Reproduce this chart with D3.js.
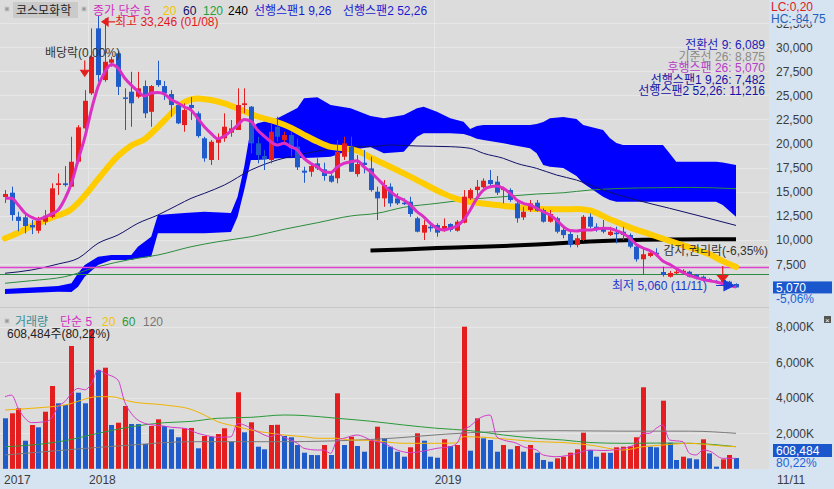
<!DOCTYPE html>
<html><head><meta charset="utf-8">
<script src="https://cdn.jsdelivr.net/npm/d3@7"></script>
<style>
body{margin:0;background:#dcdcdc}
svg{display:block}
text{font-family:"Liberation Sans","Noto Sans CJK KR",sans-serif;font-size:12px}
</style></head>
<body><svg id="c" width="834" height="489"></svg>
<script>
// ---------------- DATA (weekly candles) ----------------
const opens  = [14450,14900,12400,12340,11540,10950,11890,12400,15690,15870,15520,18110,21570,25200,31940,26580,28380,29350,24780,25370,24850,25960,23290,26580,25960,25130,23990,21910,24000,23130,20540,18290,20080,20540,21120,21400,23990,23820,20020,18700,18290,21740,20360,20880,19670,17180,17070,17940,17320,16660,16390,18630,19670,16830,18010,17420,15000,14310,15520,14310,13860,13960,12240,10750,11370,11540,10950,11650,10950,11790,14310,15170,15460,16210,16040,15170,15170,13790,12340,13100,13860,13100,11890,12240,11030,10610,9470,9990,12400,11370,11300,10510,10750,10850,10510,9300,7990,8330,8670,6670,6180,6540,6600,6700,6360,6180,5910,5750,5640,5670,5430];
const highs  = [15170,15520,12920,12580,12060,12400,13100,15870,16900,17660,20700,21910,25540,31940,33246,32980,29000,29520,25720,27440,27440,26540,26060,28580,26480,25540,24330,24170,24820,23330,20700,20360,21050,23130,22430,25720,25720,23890,20700,19320,22100,22780,21220,21220,20520,17590,17940,18460,18010,16900,20360,20700,20700,18800,19320,18630,15520,16210,15870,14830,14310,14480,12400,12060,11890,11720,12230,11720,12060,15170,15350,16210,16390,17250,16630,15520,15350,13960,13440,14140,14140,13270,13100,12400,11550,10850,10510,12580,12750,11720,12060,11370,11370,11370,10680,9640,9130,8950,9130,7220,6780,6900,6950,6800,6460,6300,6000,5850,5950,5750,5500];
const lows   = [13830,11990,10890,10680,10600,10680,11540,12260,14660,15520,15520,17940,21400,25030,26400,26400,27960,25030,21400,21740,24680,22640,21740,25880,24520,22780,22010,21220,22430,20600,18110,17770,18290,20180,20700,21400,23130,18980,17940,17250,17940,20180,19840,18630,17250,15930,16560,17250,16140,15930,15870,18290,17070,16560,16900,15000,12060,13440,13440,13620,13620,12400,10780,9990,10850,10330,10850,10850,10850,11720,14140,14660,15350,15520,14660,13790,13960,11790,12060,12920,12920,11790,11790,10680,10160,9230,9230,9880,11200,10850,10680,10400,9640,9990,9130,7740,6360,8200,8290,6190,6100,6460,6500,6100,5900,5840,5650,5500,5550,5250,5060];
const closes = [14760,12580,11970,11440,11300,11990,12510,15350,15870,15690,18110,21680,24430,29000,27100,28480,28730,25880,24680,24170,25720,23130,25960,26060,25200,23990,22090,23470,23680,20770,18460,20180,20540,21740,21570,23990,24170,20020,18800,18360,21220,20700,20880,19500,17530,16970,17660,17420,16630,16040,19150,20020,17070,17870,17770,15170,14310,15690,13790,13790,13720,12690,10850,11540,11200,10750,11440,11030,11890,14480,15170,15520,16140,15800,14900,15350,14140,12240,12920,13790,13030,11890,12690,10850,10500,9470,10170,12400,11370,11030,10850,10850,10610,10510,9300,7990,8510,8670,8530,6360,6570,6700,6800,6180,6020,5910,5750,5600,5840,5320,5070];
const volumes = [2845,3127,3408,1583,2468,2338,3217,4665,3690,3594,6918,4287,3690,7850,5566,5696,2468,2597,3538,2524,2520,1397,2411,2789,2411,2225,1775,2282,2300,1155,1848,1809,1960,2282,1527,4310,2056,2620,1245,1098,2468,2480,1848,1775,1340,907,777,770,1340,777,4253,1340,1809,1284,963,1622,2372,1718,1245,963,682,1211,2000,1583,682,625,1662,1284,1340,8006,1020,2845,1718,1622,963,1340,1098,1284,963,1340,907,496,400,590,682,907,1098,2035,1059,682,907,900,1211,1245,1260,1775,4592,1245,1211,3838,1470,496,682,590,535,1662,870,120,535,777,608];

// indicator lines: [week, value]
const ma5  = [[0,14310],[1,14310],[2,13620],[3,12790],[4,12350],[5,12120],[6,12370],[7,12700],[8,13100],[9,14240],[10,15870],[11,18290],[12,20600],[13,23500],[14,25890],[15,27400],[16,28200],[17,27830],[18,26790],[19,26060],[20,25440],[21,24920],[22,25230],[23,25290],[24,25130],[25,24560],[26,24200],[27,23780],[28,23470],[29,22610],[30,21740],[31,21050],[32,20500],[33,20770],[34,21290],[35,21900],[36,22500],[37,22300],[38,21400],[39,20770],[40,20180],[41,19840],[42,20020],[43,19670],[44,19320],[45,18460],[46,17940],[47,17590],[48,17070],[49,16990],[50,17560],[51,17940],[52,18110],[53,18210],[54,17590],[55,17050],[56,16390],[57,15690],[58,15000],[59,14480],[60,14140],[61,13620],[62,12920],[63,12400],[64,11720],[65,11200],[66,11030],[67,11200],[68,11440],[69,12060],[70,13100],[71,14310],[72,15170],[73,15520],[74,15590],[75,15350],[76,14830],[77,14140],[78,13790],[79,13620],[80,13280],[81,12920],[82,12580],[83,12060],[84,11390],[85,10970],[86,10920],[87,11030],[88,11030],[89,11130],[90,11200],[91,11180],[92,10970],[93,10660],[94,10200],[95,9520],[96,9160],[97,8900],[98,8490],[99,7810],[100,7470],[101,7030],[102,6620],[103,6310],[104,6080],[105,5890],[106,5750],[107,5630],[108,5470],[109,5300],[110,5110]];
const ma20 = [[0,10165],[2,10750],[4,11450],[7,12300],[10,13200],[12,14600],[14,16300],[17,18700],[19,19800],[21,20450],[23,21700],[25,23100],[27,24300],[29,24680],[31,24510],[33,24170],[36,23350],[38,22800],[41,22200],[43,21650],[45,20900],[47,20200],[49,19650],[51,19500],[53,19250],[55,18550],[57,17900],[60,16900],[63,15850],[66,14800],[68,14250],[71,13850],[74,13620],[77,13380],[80,13200],[84,13170],[86,13200],[88,13050],[91,12150],[94,11300],[97,10600],[100,9900],[103,9220],[106,8500],[108,7800],[110,7200]];
const ma60 = [[0,6540],[4,6880],[8,7500],[11,8090],[14,9650],[17,10510],[20,11720],[23,12580],[26,13620],[28,14310],[30,14830],[33,15690],[37,17250],[40,18080],[44,18800],[48,19320],[51,19670],[55,19670],[58,19840],[62,19740],[67,19670],[70,19500],[72,18980],[75,18460],[77,17940],[80,17420],[83,16730],[86,16210],[90,15170],[95,14140],[100,13280],[105,12400],[110,11500]];
const ma120 = [[0,5500],[4,5770],[9,6180],[14,7220],[19,7990],[23,8430],[28,9290],[32,9810],[37,10330],[42,11100],[47,11780],[52,12480],[56,12760],[60,13380],[65,13790],[70,14210],[75,14480],[80,14760],[84,14890],[88,15170],[93,15350],[98,15410],[103,15450],[110,15310]];
const ma240 = [[55,8900],[60,9000],[65,9160],[70,9260],[75,9370],[80,9520],[84,9680],[88,9830],[92,9940],[96,10010],[100,10040],[105,10060],[110,10060]];
const hLines = [7220, 6430];   // magenta / green reference levels
// Ichimoku cloud (선행스팬1 / 선행스팬2 envelope)
const cloudWeeks = [0,8,10,11,12,14,16,19,20,22,23,27,30,34,35,36,37,38,41,44,45,47,49,52,55,57,60,62,63,65,67,69,70,71,72,75,79,80,81,82,84,86,87,90,91,92,93,99,100,101,107,108,110];
const cloudUpper = [4908,5219,5499,6536,7396,8257,8433,8433,9294,10331,12581,12789,12924,12789,14479,17590,21603,22091,22609,23677,24683,24787,23989,23646,22848,22609,22951,23646,23812,23294,22609,22257,21500,21810,21914,21914,21914,22018,22225,22609,22744,22536,21914,21396,20566,20048,19840,19840,18980,18109,18109,18025,17766];
const cloudLower = [4389,4627,4596,5146,6183,7396,7915,7915,8091,8257,10684,10684,10684,10820,12405,15174,18285,18285,18461,18492,18492,18544,18627,19322,19633,18980,19146,20701,21053,21053,21053,20981,20770,20500,20359,20016,19498,18980,17766,17590,17455,16630,15869,14479,14137,13960,13960,13960,13960,13960,13960,13618,12405];
// volume moving averages
const vma5 = [[0,4060],[1,4150],[2,3400],[3,2850],[4,2600],[6,2650],[7,2850],[8,3500],[9,3780],[10,4250],[11,4530],[12,4450],[13,4800],[14,5566],[15,5380],[17,5000],[18,3780],[19,3127],[21,2563],[22,2480],[24,2400],[25,2340],[27,2282],[29,2000],[30,1904],[32,1775],[34,1800],[35,2563],[36,2468],[38,2090],[40,1809],[41,1960],[42,1775],[44,1436],[45,1155],[47,1059],[48,1059],[49,870],[50,1622],[51,1718],[53,1904],[54,1800],[55,1622],[57,1436],[59,1059],[61,907],[63,1000],[65,1155],[67,1245],[68,1436],[69,2200],[70,2400],[71,2750],[73,3031],[74,1800],[75,1622],[77,1436],[78,1245],[80,1059],[81,777],[83,682],[86,870],[88,1059],[90,1030],[92,1080],[94,1245],[95,1436],[96,2000],[97,2000],[98,2282],[99,2468],[100,1622],[102,1527],[103,870],[104,777],[105,1059],[106,1000],[108,590],[110,590]];
const vma20 = [[0,3313],[4,3408],[9,3594],[14,4062],[16,4062],[19,3780],[24,3594],[28,3350],[30,3031],[32,2656],[35,2372],[37,2186],[40,2000],[42,1904],[45,1809],[47,1718],[50,1718],[52,1622],[55,1600],[60,1436],[65,1436],[68,1460],[69,1809],[72,1775],[77,1622],[80,1530],[84,1480],[88,1340],[93,1059],[96,1245],[99,1340],[103,1436],[108,1284],[110,1245]];
const vma60 = [[0,1245],[4,1340],[9,1583],[14,2000],[19,2372],[24,2597],[28,2670],[32,2845],[37,2900],[42,3031],[45,3000],[50,2845],[55,2680],[60,2468],[65,2282],[70,2150],[75,1904],[80,1718],[84,1622],[88,1480],[93,1436],[98,1450],[103,1436],[110,1245]];
const vma120 = [[0,777],[9,1059],[19,1340],[28,1527],[42,1527],[55,1650],[70,2034],[83,2147],[93,2120],[103,2120],[110,2000]];
// axis ticks / labels
const priceTicks = [32500,30000,27500,25000,22500,20000,17500,15000,12500,10000,7500];
const volTicks = [8000,6000,4000,2000];
const yearLabels = [["2017",-0.3],["2018",12.5],["2019",64.5]];
const lastDate = "11/11";

// ---------------- LAYOUT ----------------
const W=834,H=489, PR=769;
const BG="#dcdcdc", AXBG="#d6e3f1";
const RED="#e41e1e", BLUE="#1f5cc9";
const svg=d3.select("#c");
const x=d3.scaleLinear().domain([0,110]).range([5,736]);
const yP=d3.scaleLinear().domain([7500,30000]).range([264,47.1]);
const yV=d3.scaleLinear().domain([0,8000]).range([468.8,326.8]);

svg.append("rect").attr("width",W).attr("height",H).attr("fill",BG);
svg.append("rect").attr("x",PR).attr("y",0).attr("width",W-PR).attr("height",H).attr("fill",AXBG);
svg.append("rect").attr("x",0).attr("y",469).attr("width",W).attr("height",H-469).attr("fill",AXBG);

const defs=svg.append("defs");
defs.append("clipPath").attr("id","cp").append("rect").attr("x",0).attr("y",0).attr("width",PR).attr("height",307);
defs.append("clipPath").attr("id","cv").append("rect").attr("x",0).attr("y",309).attr("width",PR).attr("height",160);

// grid
const grid=svg.append("g").attr("stroke","#e7e7e7").attr("stroke-width",1);
priceTicks.forEach(t=>{const yy=Math.round(yP(t))+0.5;grid.append("line").attr("x1",0).attr("x2",PR).attr("y1",yy).attr("y2",yy);});
volTicks.forEach(t=>{const yy=Math.round(yV(t))+0.5;grid.append("line").attr("x1",0).attr("x2",PR).attr("y1",yy).attr("y2",yy);});
yearLabels.slice(1).forEach(d=>{const xx=Math.round(x(d[1]))+0.5;grid.append("line").attr("x1",xx).attr("x2",xx).attr("y1",0).attr("y2",469);});
svg.append("line").attr("x1",0).attr("x2",PR).attr("y1",307.5).attr("y2",307.5).attr("stroke","#c6c6c6");

// ---------------- PRICE PANEL ----------------
const gp=svg.append("g").attr("clip-path","url(#cp)");
const area=d3.area().x((d,i)=>x(cloudWeeks[i])).y0((d,i)=>yP(cloudLower[i])).y1((d,i)=>yP(cloudUpper[i]));
gp.append("path").datum(cloudWeeks).attr("d",area).attr("fill","#0000ff");

const line=(s)=>d3.line().x(d=>x(d[0])).y(d=>s(d[1])).curve(d3.curveMonotoneX);
gp.append("path").datum(ma120).attr("d",line(yP)).attr("fill","none").attr("stroke","#2b8c3c").attr("stroke-width",1);
gp.append("path").datum(ma60).attr("d",line(yP)).attr("fill","none").attr("stroke","#10106a").attr("stroke-width",1);
const hcol=["#e040d0","#2a8a44"];
hLines.forEach((v,i)=>{const yy=Math.round(yP(v))+0.5;gp.append("line").attr("x1",0).attr("x2",PR).attr("y1",yy).attr("y2",yy).attr("stroke",hcol[i]).attr("stroke-width",i==0?1.5:1);});
gp.append("path").datum(ma240).attr("d",line(yP)).attr("fill","none").attr("stroke","#000").attr("stroke-width",4);
gp.append("path").datum(ma20).attr("d",line(yP)).attr("fill","none").attr("stroke","#ffcc00").attr("stroke-width",6).attr("stroke-linecap","round");

// candles
const gc=gp.append("g");
closes.forEach((c,i)=>{
  const o=opens[i], col=c>=o?RED:BLUE, cx=Math.round(x(i));
  gc.append("line").attr("x1",cx+0.5).attr("x2",cx+0.5).attr("y1",yP(highs[i])).attr("y2",yP(lows[i])).attr("stroke",col).attr("stroke-width",1);
  const top=yP(Math.max(o,c)), bot=yP(Math.min(o,c));
  gc.append("rect").attr("x",cx-2).attr("y",top).attr("width",5).attr("height",Math.max(1.5,bot-top)).attr("fill",col);
});
gp.append("path").datum(ma5).attr("d",line(yP)).attr("fill","none").attr("stroke","#dc2fc4").attr("stroke-width",3);

// ---------------- VOLUME PANEL ----------------
const gv=svg.append("g").attr("clip-path","url(#cv)");
volumes.forEach((v,i)=>{
  const up = i>0 && v>=volumes[i-1];
  gv.append("rect").attr("x",Math.round(x(i))-2).attr("y",yV(v)).attr("width",5).attr("height",yV(0)-yV(v)).attr("fill",up?RED:BLUE);
});
gv.append("path").datum(vma120).attr("d",line(yV)).attr("fill","none").attr("stroke","#7a7a7a").attr("stroke-width",1);
gv.append("path").datum(vma60).attr("d",line(yV)).attr("fill","none").attr("stroke","#2a9a3a").attr("stroke-width",1);
gv.append("path").datum(vma20).attr("d",line(yV)).attr("fill","none").attr("stroke","#f0b400").attr("stroke-width",1);
gv.append("path").datum(vma5).attr("d",line(yV)).attr("fill","none").attr("stroke","#d43ac8").attr("stroke-width",1);

// ---------------- AXES ----------------
const ax=svg.append("g").attr("fill","#3c3c3c");
priceTicks.forEach(t=>ax.append("text").attr("x",776).attr("y",yP(t)+4.5).text(d3.format(",")(t)));
volTicks.forEach(t=>ax.append("text").attr("x",776).attr("y",yV(t)+4.5).text(d3.format(",")(t)+"K"));
yearLabels.forEach(d=>ax.append("text").attr("x",Math.max(3,x(d[1])+1)).attr("y",484).text(d[0]));
ax.append("text").attr("x",777).attr("y",484).text(lastDate);

// LC/HC header over the top tick (the tick label peeks out below it)
svg.append("rect").attr("x",PR).attr("y",0).attr("width",W-PR).attr("height",24.5).attr("fill",AXBG);
svg.append("text").attr("x",771).attr("y",11).attr("fill","#e02020").text("LC:0,20");
svg.append("text").attr("x",771).attr("y",22.5).attr("fill","#1f5fb8").text("HC:-84,75");

// current price box
const lastC=closes[closes.length-1];
svg.append("rect").attr("x",773).attr("y",yP(lastC)-6).attr("width",59).attr("height",12).attr("fill","#1a56cc");
svg.append("text").attr("x",776).attr("y",yP(lastC)+4.5).attr("fill","#fff").text(d3.format(",")(lastC));
svg.append("text").attr("x",776).attr("y",yP(lastC)+16).attr("fill","#2262d8").text("-5,06%");
svg.append("rect").attr("x",773).attr("y",444).attr("width",59).attr("height",13).attr("fill","#1a56cc");
svg.append("text").attr("x",776).attr("y",455).attr("fill","#fff").text("608,484");
svg.append("text").attr("x",776).attr("y",466.5).attr("fill","#2262d8").text("80,22%");
// small close icon
svg.append("rect").attr("x",824).attr("y",316).attr("width",7).attr("height",7).attr("fill","#555");
svg.append("text").attr("x",825).attr("y",322.5).attr("fill","#fff").style("font-size","8px").text("×");

// ---------------- LEGENDS / ANNOTATIONS ----------------
function sq(xx,yy){svg.append("rect").attr("x",xx).attr("y",yy).attr("width",4).attr("height",4).attr("fill","#9a9a9a").attr("stroke","#c8c8c8");}
sq(5,7);
svg.append("rect").attr("x",13).attr("y",2).attr("width",65).attr("height",16).attr("fill","#cacaca");
svg.append("text").attr("x",16).attr("y",14.5).attr("fill","#222").text("코스모화학");
sq(82,7);
const leg=[["종가 단순 5",93,"#d22ec2"],["20",163,"#f4c400"],["60",183,"#10106a"],["120",203,"#22a040"],["240",228,"#000"],["선행스팬1 9,26",254,"#1a1ad2"],["선행스팬2 52,26",343,"#1a1ad2"]];
leg.forEach(d=>svg.append("text").attr("x",d[1]).attr("y",14.5).attr("fill",d[2]).text(d[0]));

const ich=[["전환선 9: 6,089","#1c1cb8",49],["기준선 26: 8,875","#8a8a8a",60.5],["후행스팬 26: 5,070","#b43cc8",72],["선행스팬1 9,26: 7,482","#1414a4",83.5],["선행스팬2 52,26: 11,216","#1414a4",95]];
ich.forEach(d=>svg.append("text").attr("x",765).attr("y",d[2]).attr("text-anchor","end").attr("fill",d[1]).text(d[0]));

// high marker
const hx=x(14)+4, hy=yP(33246)+6;
svg.append("path").attr("d",`M${hx},${hy} l6,-4 v8 z M${hx+5},${hy} h8`).attr("fill",RED).attr("stroke",RED).attr("stroke-width",1.2);
svg.append("text").attr("x",hx+13).attr("y",hy+4.5).attr("fill","#e41a1a").text("최고 33,246 (01/08)");
// dividend marker
const dx=x(12);
svg.append("path").attr("d",`M${dx},${yP(28600)} V${yP(27600)} M${dx-4},${yP(27600)} h8 l-4,6 z`).attr("fill",RED).attr("stroke",RED).attr("stroke-width",1.2);
svg.append("text").attr("x",45).attr("y",57).attr("fill","#333").text("배당락(0,00%)");
// capital reduction marker
const cx2=x(108);
svg.append("path").attr("d",`M${cx2},${yP(7300)} V${yP(6300)} M${cx2-5},${yP(6300)} h10 l-5,6 z`).attr("fill",RED).attr("stroke",RED).attr("stroke-width",1.2);
svg.append("text").attr("x",768).attr("y",255).attr("text-anchor","end").attr("fill","#333").text("감자,권리락(-6,35%)");
// low marker
const lx=x(110)-2, ly=yP(5060)-2;
svg.append("path").attr("d",`M${lx-18},${ly} h10 M${lx-10},${ly-5} l10,5 l-10,5 z`).attr("fill","#1a3ad8").attr("stroke","#1a3ad8").attr("stroke-width",1.2);
svg.append("text").attr("x",612).attr("y",290).attr("fill","#1a3ad0").text("최저 5,060 (11/11)");

// volume legend
sq(5,319);
const vleg=[["거래량",15,"#3a8e98"],["단순 5",60,"#d22ec2"],["20",102,"#f4c400"],["60",122,"#2a9a3a"],["120",143,"#777"]];
vleg.forEach(d=>svg.append("text").attr("x",d[1]).attr("y",326).attr("fill",d[2]).text(d[0]));
svg.append("text").attr("x",7).attr("y",338).attr("fill","#222").text("608,484주(80,22%)");
</script></body></html>
